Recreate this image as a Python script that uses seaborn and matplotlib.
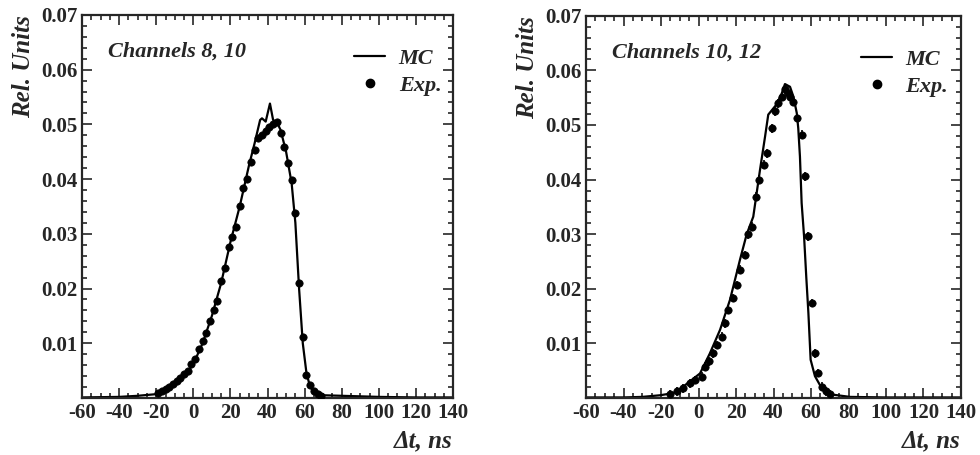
import numpy as np
import pandas as pd
import seaborn as sns
import matplotlib.pyplot as plt
from matplotlib.lines import Line2D
from matplotlib.ticker import MultipleLocator

# Left panel: channels 8, 10
mc_x_a = [-60, -40, -30, -20, -15, -10, -5, 0, 5, 10, 15, 20, 25, 30, 33, 36, 37, 39,
          41.3, 43, 45, 47, 50, 53, 55, 57, 59, 61, 63, 66, 70, 80, 100, 120, 140]
mc_y_a = [0.0001, 0.0002, 0.0004, 0.0007, 0.0012, 0.0025, 0.0040, 0.0062, 0.0100,
          0.0150, 0.0210, 0.0285, 0.0350, 0.0425, 0.0465, 0.0508, 0.0511, 0.0505,
          0.0538, 0.0508, 0.0504, 0.0490, 0.0450, 0.0392, 0.0320, 0.0200, 0.0100,
          0.0045, 0.0020, 0.0008, 0.0005, 0.0004, 0.0002, 0.0001, 0.0001]
exp_x_a = [-19, -17, -15, -13, -11, -9, -7, -5, -3, -1, 1, 3, 5, 7, 9, 11, 13, 15, 17,
           19, 21, 23, 25, 27, 29, 31, 33, 35, 37, 39, 41, 43, 45, 47, 49, 51, 53,
           55, 57, 59, 61, 63, 65, 67, 69]
exp_y_a = [0.0010, 0.0012, 0.0016, 0.0020, 0.0026, 0.0031, 0.0036, 0.0043, 0.0050,
           0.0062, 0.0072, 0.0089, 0.0104, 0.0118, 0.0140, 0.0160, 0.0178, 0.0213,
           0.0238, 0.0276, 0.0295, 0.0313, 0.0350, 0.0383, 0.0400, 0.0432, 0.0453,
           0.0475, 0.0480, 0.0487, 0.0496, 0.0500, 0.0505, 0.0484, 0.0459, 0.0429,
           0.0398, 0.0338, 0.0210, 0.0112, 0.0042, 0.0024, 0.0012, 0.0007, 0.0004]

# Right panel: channels 10, 12
mc_x_b = [-60, -40, -30, -20.5, -13.4, -8.1, -4, 0.8, 6.1, 11.5, 16.8, 22.1, 25.7, 29.2,
          32.8, 35.5, 37.2, 41.7, 44.4, 46.1, 48.8, 50.6, 52.4, 53.2, 54.1, 55, 56.3,
          57.5, 58.6, 59.8, 62.1, 65.7, 71.9, 80.8, 100, 140]
mc_y_b = [0.0001, 0.0001, 0.0002, 0.0005, 0.0009, 0.0021, 0.0032, 0.0045, 0.0082,
          0.0125, 0.0180, 0.0253, 0.0300, 0.0332, 0.0418, 0.0479, 0.0519, 0.0538,
          0.0558, 0.0575, 0.0570, 0.0552, 0.0522, 0.0494, 0.0442, 0.0357, 0.0296,
          0.0220, 0.0156, 0.0070, 0.0040, 0.0018, 0.0006, 0.0002, 0.0001, 0.0001]
exp_x_b = [-15.2, -11.6, -8.1, -4.5, -1.9, 1.7, 3.5, 5.8, 7.9, 10, 12.4, 14.1, 15.9,
           18.6, 20.4, 22.1, 24.8, 26.6, 28.4, 30.7, 32.4, 34.9, 36.7, 39, 40.8, 42.6,
           44.4, 46.1, 47.5, 49, 50.6, 52.4, 55, 56.8, 58.6, 60.4, 62.1, 63.9, 66, 68, 70]
exp_y_b = [0.0007, 0.0012, 0.0018, 0.0027, 0.0033, 0.0039, 0.0057, 0.0067, 0.0082,
           0.0097, 0.0112, 0.0137, 0.0161, 0.0183, 0.0207, 0.0235, 0.0262, 0.0300,
           0.0314, 0.0369, 0.0400, 0.0427, 0.0448, 0.0494, 0.0525, 0.0540, 0.0552,
           0.0565, 0.0558, 0.0552, 0.0543, 0.0513, 0.0482, 0.0406, 0.0296, 0.0174,
           0.0082, 0.0046, 0.0021, 0.0012, 0.0007]

panels = [
    ("Channels 8, 10", mc_x_a, mc_y_a, exp_x_a, exp_y_a, False),
    ("Channels 10, 12", mc_x_b, mc_y_b, exp_x_b, exp_y_b, True),
]

sns.set_style("ticks")
plt.rcParams['font.family'] = ['Liberation Serif', 'DejaVu Serif']
plt.rcParams['font.weight'] = 'bold'
plt.rcParams['axes.unicode_minus'] = False

fig = plt.figure(figsize=(9.8, 4.55), dpi=100)
axes = [fig.add_axes([0.0837, 0.1253, 0.3786, 0.842]),
        fig.add_axes([0.598, 0.1253, 0.3826, 0.840])]

for ax, (title, mx, my, ex, ey, bars) in zip(axes, panels):
    mc = pd.DataFrame({"t": mx, "v": my})
    ed = pd.DataFrame({"t": ex, "v": ey})
    sns.lineplot(data=mc, x="t", y="v", ax=ax, color="black", lw=1.6)
    if bars:
        ax.errorbar(ed["t"], ed["v"], yerr=0.0008, fmt="none", ecolor="black",
                    elinewidth=1.2, capsize=0)
    sns.scatterplot(data=ed, x="t", y="v", ax=ax, color="black", s=28,
                    marker="o", edgecolor="black", linewidth=0.5, zorder=3)

    ax.set_xlim(-60, 140)
    ax.set_ylim(0, 0.07)
    ax.xaxis.set_major_locator(MultipleLocator(20))
    ax.xaxis.set_minor_locator(MultipleLocator(5))
    ax.yaxis.set_minor_locator(MultipleLocator(0.002))
    ax.set_yticks([0.01, 0.02, 0.03, 0.04, 0.05, 0.06, 0.07])
    ax.set_yticklabels(["0.01", "0.02", "0.03", "0.04", "0.05", "0.06", "0.07"])
    ax.tick_params(which="both", direction="in", top=True, right=True,
                   labelsize=15, width=1.2)
    ax.tick_params(which="major", length=7)
    ax.tick_params(which="minor", length=3.5)
    for lab in ax.get_xticklabels() + ax.get_yticklabels():
        lab.set_fontweight("bold")
    for sp in ax.spines.values():
        sp.set_linewidth(1.6)

    ax.set_xlabel("Δt, ns", loc="right", fontsize=18, fontstyle="italic",
                  fontweight="bold", labelpad=5)
    ax.set_ylabel("Rel. Units", loc="top", fontsize=18, fontstyle="italic",
                  fontweight="bold", labelpad=4)

    ax.text(0.07, 0.903, title, transform=ax.transAxes, fontsize=16,
            fontstyle="italic", fontweight="bold", va="center", ha="left")

    handles = [Line2D([], [], color="black", lw=1.6),
               Line2D([], [], color="black", marker="o", ls="none", ms=6)]
    ax.legend(handles, ["MC", "Exp."], loc="upper left", bbox_to_anchor=(0.68, 0.965),
              frameon=False, handlelength=1.4, handletextpad=0.6, labelspacing=0.3,
              prop={"family": "Liberation Serif", "style": "italic",
                    "weight": "bold", "size": 16})

fig.savefig("out.png", dpi=100)
